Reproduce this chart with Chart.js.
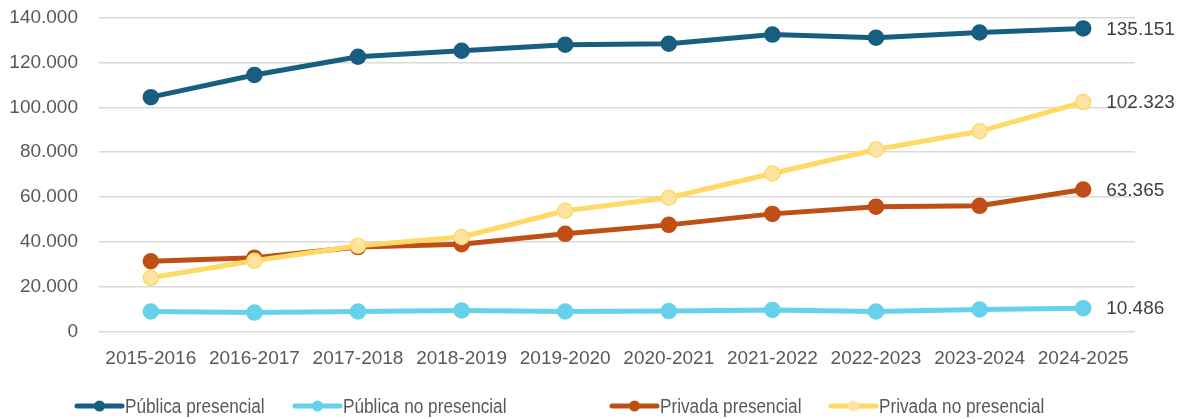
<!DOCTYPE html>
<html>
<head>
<meta charset="utf-8">
<script src="https://cdn.jsdelivr.net/npm/chart.js@4/dist/chart.umd.min.js"></script>
<style>
  html, body { margin: 0; padding: 0; background: #fff; }
  #wrap { width: 1185px; height: 419px; position: relative; }
</style>
</head>
<body>
<div id="wrap"><canvas id="myChart"></canvas></div>
<script>
var years = ["2015-2016", "2016-2017", "2017-2018", "2018-2019", "2019-2020",
  "2020-2021", "2021-2022", "2022-2023", "2023-2024", "2024-2025"];
var publicaPresencial = [104500, 114400, 122500, 125200, 127900, 128300, 132400, 131000, 133300, 135151];
var publicaNoPresencial = [9000, 8500, 9000, 9500, 9000, 9200, 9700, 9000, 9900, 10486];
var privadaPresencial = [31400, 33000, 37700, 39000, 43600, 47600, 52500, 55700, 56100, 63365];
var privadaNoPresencial = [24000, 31600, 38300, 42200, 53900, 59700, 70500, 81200, 89300, 102323];
var yTicks = [0, 20000, 40000, 60000, 80000, 100000, 120000, 140000];

// where each legend entry starts (Excel spreads them unevenly)
var legendX = [75, 293, 610, 829];

function fmt(n) {
  return String(Math.round(n)).replace(/\B(?=(\d{3})+(?!\d))/g, ".");
}

function series(label, data, line, fill, order) {
  return {
    label: label,
    data: data,
    borderColor: line,
    backgroundColor: fill,
    pointBackgroundColor: fill,
    pointBorderColor: line,
    pointBorderWidth: 1.5,
    pointRadius: 7.5,
    borderWidth: 5,
    tension: 0,
    order: order
  };
}

// value at the end of every line
var endLabels = {
  id: "endLabels",
  afterDatasetsDraw: function (chart) {
    var ctx = chart.ctx;
    ctx.save();
    ctx.font = "19px 'Liberation Sans', Arial, sans-serif";
    ctx.fillStyle = "#404040";
    ctx.textBaseline = "middle";
    chart.data.datasets.forEach(function (ds, i) {
      var meta = chart.getDatasetMeta(i);
      var pt = meta.data[meta.data.length - 1];
      ctx.fillText(fmt(ds.data[ds.data.length - 1]), pt.x + 23, pt.y + 1);
    });
    ctx.restore();
  }
};

// line + marker legend along the bottom
var bottomLegend = {
  id: "bottomLegend",
  afterDraw: function (chart) {
    var ctx = chart.ctx;
    var y = 406;
    ctx.save();
    chart.data.datasets.forEach(function (ds, i) {
      var x = legendX[i];
      ctx.strokeStyle = ds.borderColor;
      ctx.lineWidth = 5;
      ctx.lineCap = "round";
      ctx.beginPath(); ctx.moveTo(x + 2, y); ctx.lineTo(x + 47, y); ctx.stroke();
      ctx.fillStyle = ds.pointBackgroundColor;
      ctx.beginPath(); ctx.arc(x + 24.5, y, 5.5, 0, Math.PI * 2); ctx.fill();
      ctx.save();
      ctx.translate(x + 50, y);
      ctx.scale(0.86, 1);
      ctx.font = "20px 'Liberation Sans', Arial, sans-serif";
      ctx.fillStyle = "#595959";
      ctx.textBaseline = "middle";
      ctx.fillText(ds.label, 0, 1);
      ctx.restore();
    });
    ctx.restore();
  }
};

var config = {
  type: "line",
  data: {
    labels: years,
    datasets: [
      series("Pública presencial", publicaPresencial, "#175E80", "#175E80", 0),
      series("Pública no presencial", publicaNoPresencial, "#66D1EA", "#66D1EA", 3),
      series("Privada presencial", privadaPresencial, "#C04F15", "#C04F15", 2),
      series("Privada no presencial", privadaNoPresencial, "#FFD966", "#FFE3A3", 1)
    ]
  },
  options: {
    responsive: true,
    maintainAspectRatio: false,
    animation: false,
    layout: { autoPadding: false, padding: { left: 9, right: 50, top: 17.5, bottom: 40.5 } },
    plugins: {
      tooltip: { enabled: false },
      legend: { display: false }
    },
    scales: {
      x: {
        offset: true,
        grid: { display: false },
        border: { display: false },
        ticks: {
          color: "#595959",
          font: { size: 19, family: "'Liberation Sans', Arial, sans-serif" },
          maxRotation: 0,
          autoSkip: false,
          padding: 8
        }
      },
      y: {
        min: 0,
        max: 140000,
        afterBuildTicks: function (axis) {
          axis.ticks = yTicks.map(function (v) { return { value: v }; });
        },
        afterFit: function (axis) {
          axis.width = 90;
          axis.paddingTop = 0;
          axis.paddingBottom = 0;
        },
        grid: { color: "#D9D9D9", lineWidth: 1.5, drawTicks: false },
        border: { display: false },
        ticks: {
          color: "#595959",
          font: { size: 19, family: "'Liberation Sans', Arial, sans-serif" },
          padding: 21,
          callback: function (v) { return fmt(v); }
        }
      }
    }
  },
  plugins: [endLabels, bottomLegend]
};

var myChart = new Chart(document.getElementById("myChart"), config);
</script>
</body>
</html>
